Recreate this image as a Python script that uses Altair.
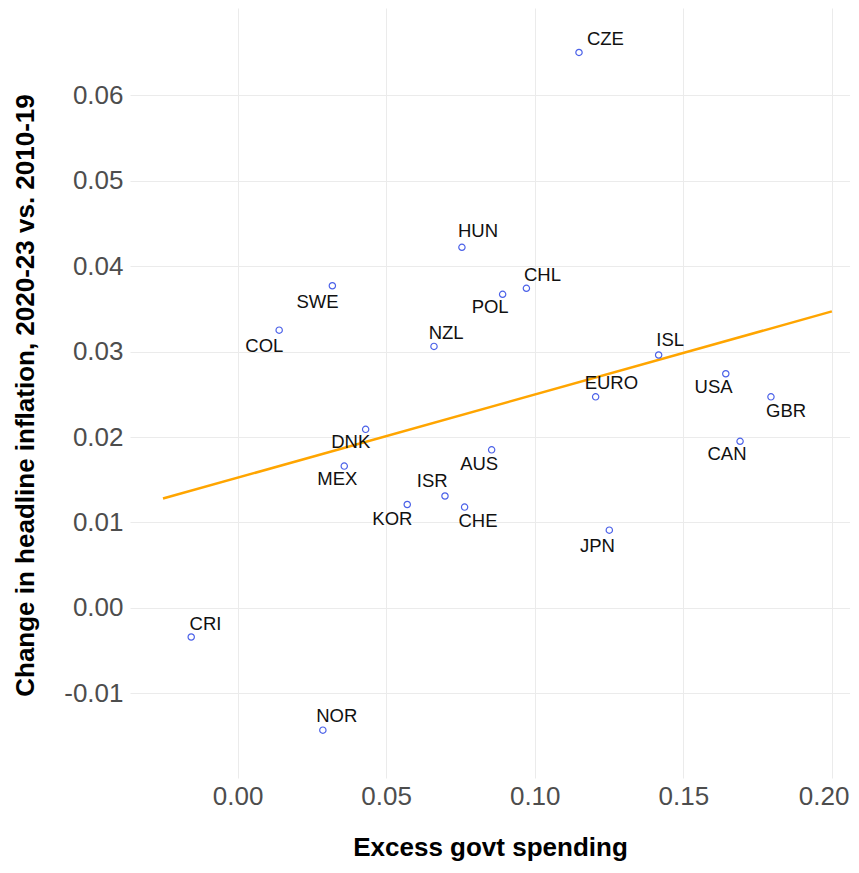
import altair as alt
import pandas as pd

countries = ["CZE", "HUN", "POL", "CHL", "NZL", "ISL", "EURO", "USA", "GBR", "CAN",
             "SWE", "COL", "DNK", "MEX", "KOR", "ISR", "CHE", "AUS", "JPN", "CRI", "NOR"]
spending = [0.1149, 0.0755, 0.0892, 0.0972, 0.0661, 0.1417, 0.1205, 0.1643, 0.1795, 0.1691,
            0.0319, 0.0140, 0.0431, 0.0359, 0.0571, 0.0698, 0.0764, 0.0855, 0.1251, -0.0156, 0.0287]
inflation = [0.0650, 0.0422, 0.0367, 0.0374, 0.0306, 0.0296, 0.0247, 0.0274, 0.0247, 0.0195,
             0.0377, 0.0325, 0.0209, 0.0166, 0.0121, 0.0131, 0.0118, 0.0185, 0.0091, -0.0034, -0.0143]
label_x = [0.1238, 0.0809, 0.0850, 0.1026, 0.0702, 0.1456, 0.1258, 0.1602, 0.1846, 0.1647,
           0.0269, 0.0090, 0.0381, 0.0336, 0.0521, 0.0655, 0.0809, 0.0813, 0.1211, -0.0108, 0.0334]
label_y = [0.0666, 0.0441, 0.0352, 0.0390, 0.0322, 0.0313, 0.0263, 0.0259, 0.0230, 0.0180,
           0.0358, 0.0306, 0.0194, 0.0151, 0.0104, 0.0148, 0.0102, 0.0168, 0.0072, -0.0019, -0.0127]

fit_x = [-0.0251, 0.2000]
fit_y = [0.0128, 0.0347]

x_ticks = [0.0, 0.05, 0.10, 0.15, 0.20]
y_ticks = [-0.01, 0.0, 0.01, 0.02, 0.03, 0.04, 0.05, 0.06]
x_domain = [-0.0362, 0.2061]
y_domain = [-0.0199, 0.0702]

df = pd.DataFrame({"country": countries, "spending": spending, "inflation": inflation,
                   "lx": label_x, "ly": label_y})
fit = pd.DataFrame({"spending": fit_x, "inflation": fit_y})

FONT = "Liberation Sans"

xscale = alt.Scale(domain=x_domain, nice=False, zero=False)
yscale = alt.Scale(domain=y_domain, nice=False, zero=False)

xaxis = alt.Axis(values=x_ticks, labelExpr="format(datum.value, '.2f')",
                 title="Excess govt spending", domain=False, ticks=False,
                 grid=True, gridColor="#ebebeb", gridWidth=1,
                 labelFont=FONT, labelFontSize=26, labelColor="#4d4d4d", labelPadding=5,
                 labelAlign={"condition": {"test": "datum.value >= 0.19", "value": "right"},
                             "value": "center"},
                 labelOffset={"condition": {"test": "datum.value >= 0.19", "value": 17},
                              "value": 0},
                 titleFont=FONT, titleFontSize=26, titleFontWeight="bold", titleColor="#000000",
                 titleBaseline="middle", titleY=69)
yaxis = alt.Axis(values=y_ticks,
                 labelExpr="replace(format(datum.value, '.2f'), '\u2212', '-')",
                 title="Change in headline inflation, 2020-23 vs. 2010-19",
                 domain=False, ticks=False,
                 grid=True, gridColor="#ebebeb", gridWidth=1,
                 labelFont=FONT, labelFontSize=26, labelColor="#4d4d4d", labelPadding=7,
                 titleFont=FONT, titleFontSize=26, titleFontWeight="bold", titleColor="#000000",
                 titleBaseline="middle", titleX=-105, titleY=387, titleAngle=-90)

base_x = alt.X("spending:Q", scale=xscale, axis=xaxis)
base_y = alt.Y("inflation:Q", scale=yscale, axis=yaxis)

line = alt.Chart(fit).mark_line(color="#FFA500", strokeWidth=2.5).encode(x=base_x, y=base_y)

points = alt.Chart(df).mark_point(filled=False, color="#4B61E8", size=40, strokeWidth=1.2,
                                  opacity=1).encode(
    x=alt.X("spending:Q", scale=xscale), y=alt.Y("inflation:Q", scale=yscale))

labels = alt.Chart(df).mark_text(font=FONT, fontSize=18.5, color="#111111",
                                 align="center", baseline="middle").encode(
    x=alt.X("lx:Q", scale=xscale), y=alt.Y("ly:Q", scale=yscale), text="country:N")

chart = alt.layer(line, points, labels).properties(
    width=720, height=770,
    autosize=alt.AutoSizeParams(type="none"),
    padding={"left": 122, "top": 0, "right": 0, "bottom": 87},
).configure(background="white").configure_view(strokeWidth=0, stroke=None)

chart.save("out.html", embed_options={"renderer": "svg", "actions": False})
